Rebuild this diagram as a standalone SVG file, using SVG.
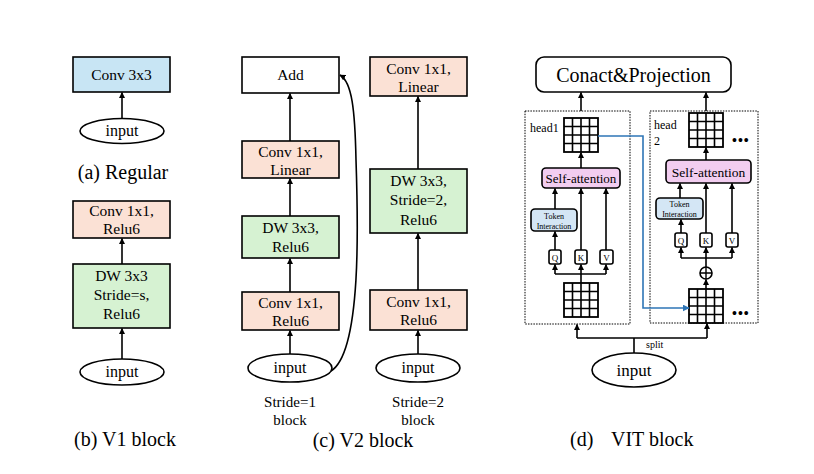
<svg xmlns="http://www.w3.org/2000/svg" width="814" height="474" viewBox="0 0 814 474" font-family="'Liberation Serif', 'DejaVu Serif', serif">
<defs>
<marker id="ah" viewBox="0 0 10 10" refX="9" refY="5" markerWidth="6" markerHeight="6" markerUnits="userSpaceOnUse" orient="auto"><path d="M0,0 L10,5 L0,10 z" fill="#000"/></marker>
<marker id="ahb" viewBox="0 0 10 10" refX="9" refY="5" markerWidth="7" markerHeight="7" markerUnits="userSpaceOnUse" orient="auto"><path d="M0,0 L10,5 L0,10 z" fill="#2e75b6"/></marker>
</defs>
<style>
text{font-family:'Liberation Serif','DejaVu Serif',serif;fill:#000}
.t{font-size:15.5px;text-anchor:middle}
.s{font-size:15px;text-anchor:middle}
.in{font-size:16px;text-anchor:middle}
.cap{font-size:20px;text-anchor:middle}
.box{stroke:#000;stroke-width:1.6}
.blue{fill:#c8e5f4}
.pink{fill:#fbe1d5}
.green{fill:#d6f2d2}
.white{fill:#fff}
.ell{fill:#fff;stroke:#000;stroke-width:1.6}
.c{fill:none;stroke:#000;stroke-width:1.6}
.dot{fill:none;stroke:#000;stroke-width:1;stroke-dasharray:1.5 1.2}
.sa{fill:#f2cdf0;stroke:#000;stroke-width:1.6}
.ti{fill:#d4e6f5;stroke:#000;stroke-width:1.6}
.g{fill:#fff;stroke:#000;stroke-width:1.8}
</style>
<rect width="814" height="474" fill="#fff"/>

<!-- (a) -->
<g id="a_conv"><rect class="box blue" x="73" y="57" width="97" height="35"/><text class="t" x="121.5" y="80">Conv 3x3</text></g>
<g id="a_input"><ellipse class="ell" cx="122" cy="131" rx="42" ry="12.5"/><text class="in" x="122" y="136">input</text></g>
<text class="cap" x="123" y="179">(a) Regular</text>

<!-- (b) -->
<g id="b_conv"><rect class="box pink" x="73" y="201" width="97" height="37"/><text class="t" x="121.5" y="216">Conv 1x1,</text><text class="t" x="121.5" y="234">Relu6</text></g>
<g id="b_dw"><rect class="box green" x="73" y="264" width="97" height="64"/><text class="t" x="121.5" y="281">DW 3x3</text><text class="t" x="121.5" y="300">Stride=s,</text><text class="t" x="121.5" y="319">Relu6</text></g>
<g id="b_input"><ellipse class="ell" cx="122" cy="372" rx="42" ry="13"/><text class="in" x="122" y="377">input</text></g>
<text class="cap" x="125" y="446">(b) V1 block</text>

<!-- (c) left -->
<g id="c1_add"><rect class="box white" x="242" y="57" width="97" height="36"/><text class="t" x="290.5" y="80">Add</text></g>
<g id="c1_lin"><rect class="box pink" x="242" y="141" width="97" height="37"/><text class="t" x="290.5" y="157">Conv 1x1,</text><text class="t" x="290.5" y="175">Linear</text></g>
<g id="c1_dw"><rect class="box green" x="242" y="216" width="97" height="42"/><text class="t" x="290.5" y="233">DW 3x3,</text><text class="t" x="290.5" y="252">Relu6</text></g>
<g id="c1_conv"><rect class="box pink" x="242" y="292" width="97" height="38"/><text class="t" x="290.5" y="308">Conv 1x1,</text><text class="t" x="290.5" y="326">Relu6</text></g>
<g id="c1_input"><ellipse class="ell" cx="290" cy="368" rx="42" ry="14"/><text class="in" x="290" y="373">input</text></g>
<text class="s" x="290" y="407">Stride=1</text><text class="s" x="290" y="425">block</text>

<!-- (c) right -->
<g id="c2_lin"><rect class="box pink" x="370" y="57" width="97" height="39"/><text class="t" x="418.5" y="74">Conv 1x1,</text><text class="t" x="418.5" y="92">Linear</text></g>
<g id="c2_dw"><rect class="box green" x="370" y="169" width="97" height="64"/><text class="t" x="418.5" y="186">DW 3x3,</text><text class="t" x="418.5" y="205">Stride=2,</text><text class="t" x="418.5" y="225">Relu6</text></g>
<g id="c2_conv"><rect class="box pink" x="370" y="290" width="97" height="40"/><text class="t" x="418.5" y="307">Conv 1x1,</text><text class="t" x="418.5" y="325">Relu6</text></g>
<g id="c2_input"><ellipse class="ell" cx="418" cy="368" rx="42" ry="14"/><text class="in" x="418" y="373">input</text></g>
<text class="s" x="418" y="407">Stride=2</text><text class="s" x="418" y="425">block</text>
<text class="cap" x="363" y="447">(c) V2 block</text>

<!-- (d) -->
<g id="d_proj"><rect class="box white" x="536" y="57" width="195" height="35" rx="8"/><text x="633.5" y="82" style="font-size:20px;text-anchor:middle">Conact&amp;Projection</text></g>
<g id="d_head1">
<rect class="dot" x="525" y="111" width="105" height="213"/>
<text x="530" y="132" style="font-size:12px">head1</text>
<rect class="g" x="564" y="118" width="34" height="34"/><path class="c" stroke-width="1.8" d="M572.5,118 V152 M581,118 V152 M589.5,118 V152 M564,126.5 H598 M564,135 H598 M564,143.5 H598"/>
<rect class="sa" x="542" y="168" width="78" height="20" rx="4"/><text x="581" y="183" style="font-size:13px;text-anchor:middle">Self-attention</text>
<rect class="ti" x="531" y="209" width="46" height="22" rx="4"/><text x="554" y="218.5" style="font-size:8px;text-anchor:middle">Token</text><text x="554" y="228.5" style="font-size:8px;text-anchor:middle">Interaction</text>
<rect class="box white" x="549" y="250" width="12" height="14" rx="2"/><text x="555" y="261" style="font-size:9px;text-anchor:middle">Q</text>
<rect class="box white" x="575" y="250" width="12" height="14" rx="2"/><text x="581" y="261" style="font-size:9px;text-anchor:middle">K</text>
<rect class="box white" x="600" y="250" width="13" height="14" rx="2"/><text x="606.5" y="261" style="font-size:9px;text-anchor:middle">V</text>
<rect class="g" x="564" y="283" width="34" height="34"/><path class="c" stroke-width="1.8" d="M572.5,283 V317 M581,283 V317 M589.5,283 V317 M564,291.5 H598 M564,300 H598 M564,308.5 H598"/>
</g>
<g id="d_head2">
<rect class="dot" x="650" y="111" width="108" height="212"/>
<text x="654" y="129" style="font-size:12px">head</text><text x="654" y="145" style="font-size:12px">2</text>
<rect class="g" x="689" y="113" width="34" height="34"/><path class="c" stroke-width="1.8" d="M697.5,113 V147 M706,113 V147 M714.5,113 V147 M689,121.5 H723 M689,130 H723 M689,138.5 H723"/>
<text x="732" y="145" style="font-size:14px;font-weight:bold;letter-spacing:1px">•••</text>
<rect class="sa" x="666" y="160" width="85" height="23" rx="4"/><text x="708.5" y="176.5" style="font-size:13.5px;text-anchor:middle">Self-attention</text>
<rect class="ti" x="656" y="198" width="47" height="21" rx="4"/><text x="679.5" y="207" style="font-size:8px;text-anchor:middle">Token</text><text x="679.5" y="216.5" style="font-size:8px;text-anchor:middle">Interaction</text>
<rect class="box white" x="675" y="233" width="12" height="14" rx="2"/><text x="681" y="244" style="font-size:9px;text-anchor:middle">Q</text>
<rect class="box white" x="700" y="233" width="12" height="14" rx="2"/><text x="706" y="244" style="font-size:9px;text-anchor:middle">K</text>
<rect class="box white" x="726" y="233" width="12" height="14" rx="2"/><text x="732" y="244" style="font-size:9px;text-anchor:middle">V</text>
<circle cx="706" cy="273" r="6" fill="#fff" stroke="#000" stroke-width="1.6"/><path d="M700,273 H712 M706,267 V279" stroke="#000" stroke-width="1.4"/>
<rect class="g" x="689" y="289" width="34" height="34"/><path class="c" stroke-width="1.8" d="M697.5,289 V323 M706,289 V323 M714.5,289 V323 M689,297.5 H723 M689,306 H723 M689,314.5 H723"/>
<text x="732" y="318" style="font-size:14px;font-weight:bold;letter-spacing:1px">•••</text>
</g>
<g id="d_input"><ellipse class="ell" cx="634" cy="370" rx="42" ry="17"/><text x="634" y="376" style="font-size:17px;text-anchor:middle">input</text></g>
<text x="646" y="348" style="font-size:10px">split</text>
<text x="570" y="446" style="font-size:20px">(d)</text><text x="611" y="446" style="font-size:20px">VIT block</text>

<g id="connectors">
<path class="c" d="M122,118.5 V92.5" marker-end="url(#ah)"/>
<path class="c" d="M122,264 V238.5" marker-end="url(#ah)"/>
<path class="c" d="M122,359 V328.5" marker-end="url(#ah)"/>
<path class="c" d="M290,141 V93.5" marker-end="url(#ah)"/>
<path class="c" d="M290,216 V178.5" marker-end="url(#ah)"/>
<path class="c" d="M290,292 V258.5" marker-end="url(#ah)"/>
<path class="c" d="M290,354 V330.5" marker-end="url(#ah)"/>
<path class="c" d="M331,371 C362,352 358,220 356,160 C355,110 352,82 340,75" marker-end="url(#ah)"/>
<path class="c" d="M418,169 V96.5" marker-end="url(#ah)"/>
<path class="c" d="M418,290 V233.5" marker-end="url(#ah)"/>
<path class="c" d="M418,354 V330.5" marker-end="url(#ah)"/>
<path class="c" d="M581,111 V92.5" marker-end="url(#ah)"/>
<path class="c" d="M706,111 V92.5" marker-end="url(#ah)"/>
<path class="c" d="M581,168 V152.5" marker-end="url(#ah)"/>
<path class="c" d="M555,209 V188.5" marker-end="url(#ah)"/>
<path class="c" d="M581,250 V188.5" marker-end="url(#ah)"/>
<path class="c" d="M606,250 V188.5" marker-end="url(#ah)"/>
<path class="c" d="M555,250 V231.5" marker-end="url(#ah)"/>
<path class="c" d="M581,283 V274"/>
<path class="c" d="M555,274 H606"/>
<path class="c" d="M555,274 V264.5" marker-end="url(#ah)"/>
<path class="c" d="M581,274 V264.5" marker-end="url(#ah)"/>
<path class="c" d="M606,274 V264.5" marker-end="url(#ah)"/>
<path class="c" d="M706,160 V147.5" marker-end="url(#ah)"/>
<path class="c" d="M680,198 V183.5" marker-end="url(#ah)"/>
<path class="c" d="M706,233 V183.5" marker-end="url(#ah)"/>
<path class="c" d="M732,233 V183.5" marker-end="url(#ah)"/>
<path class="c" d="M681,233 V219.5" marker-end="url(#ah)"/>
<path class="c" d="M681,258 H732"/>
<path class="c" d="M681,258 V247.5" marker-end="url(#ah)"/>
<path class="c" d="M706,258 V247.5" marker-end="url(#ah)"/>
<path class="c" d="M732,258 V247.5" marker-end="url(#ah)"/>
<path class="c" d="M706,267 V258"/>
<path class="c" d="M706,289 V279.5" marker-end="url(#ah)"/>
<path fill="none" stroke="#2e75b6" stroke-width="1.6" d="M598,136 H643 V308 H689" marker-end="url(#ahb)"/>
<path class="c" d="M634,353 V338 M577,338 H707"/>
<path class="c" d="M577,338 V324.5" marker-end="url(#ah)"/>
<path class="c" d="M707,338 V323.5" marker-end="url(#ah)"/>
</g>
</svg>
